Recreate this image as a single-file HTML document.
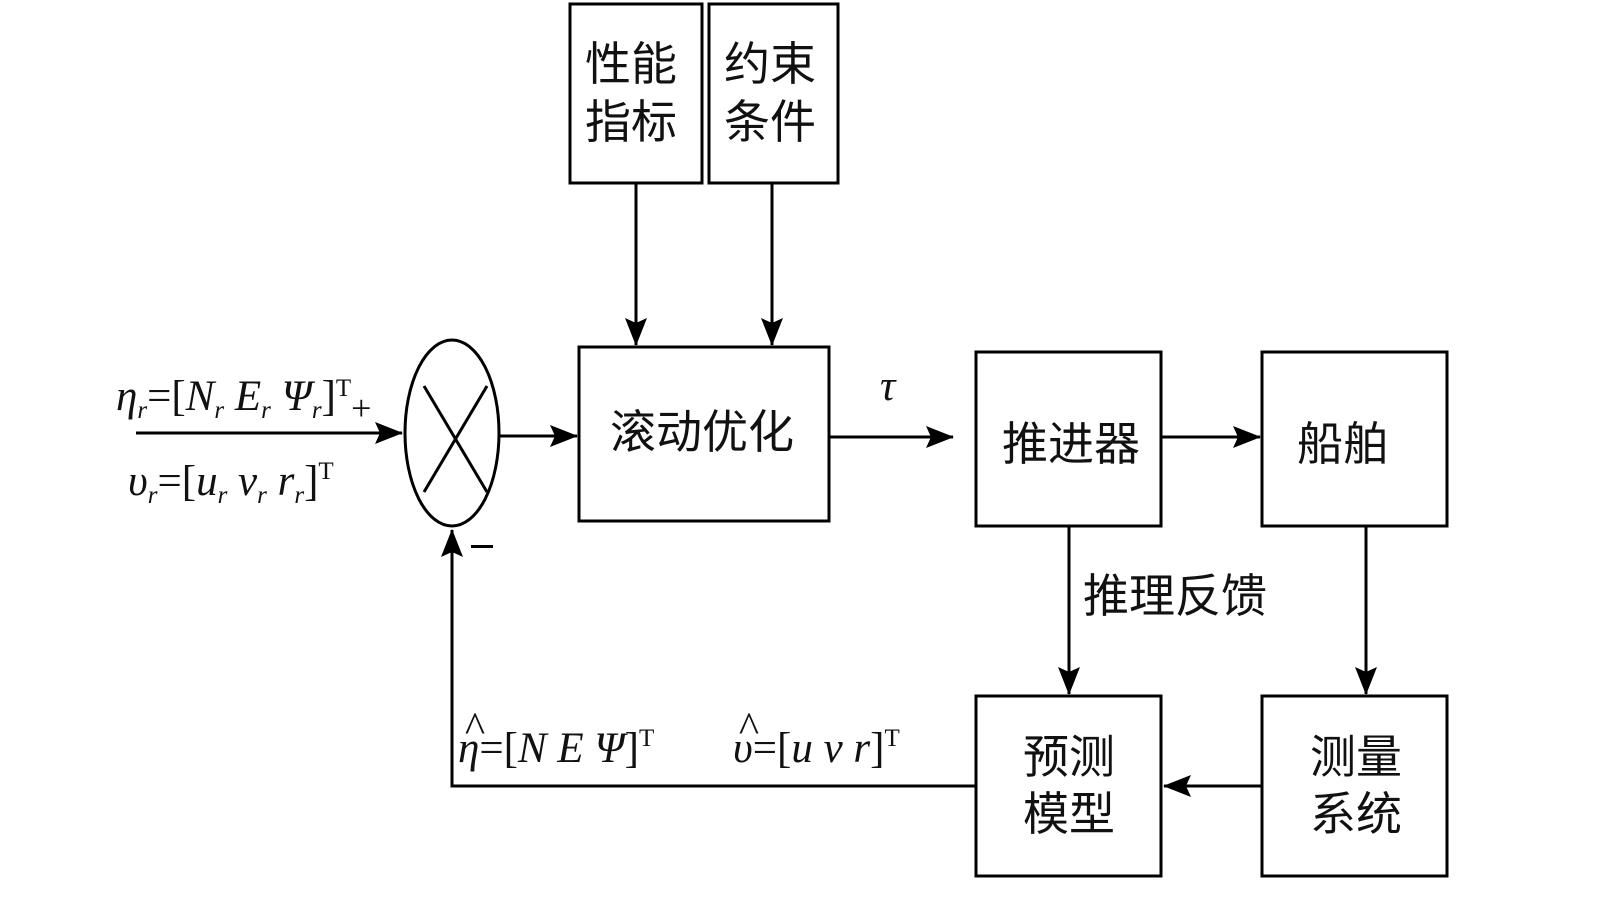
<!DOCTYPE html>
<html><head><meta charset="utf-8"><style>
body{margin:0;background:#fff}
svg{display:block}
.c{font-family:"Liberation Sans","Noto Sans CJK SC",sans-serif;font-size:46px;fill:#111}
.m{font-family:"Liberation Serif",serif;font-size:43px;fill:#111;font-style:italic}
.s{font-size:25px}
.u{font-style:normal;font-size:25px}
</style></head><body>
<svg width="1600" height="899" viewBox="0 0 1600 899" xmlns="http://www.w3.org/2000/svg">
<defs>
<marker id="b" markerWidth="28" markerHeight="22" refX="27" refY="11" orient="auto" markerUnits="userSpaceOnUse"><path d="M0,0 L28,11 L0,22 L5,11 z" fill="#000"/></marker></defs>
<g fill="none" stroke="#000" stroke-width="3">
<rect x="570" y="4" width="132" height="179"/>
<rect x="709" y="4" width="129" height="179"/>
<rect x="579" y="347" width="250" height="174"/>
<rect x="976" y="352" width="185" height="174"/>
<rect x="1262" y="352" width="185" height="174"/>
<rect x="976" y="696" width="185" height="180"/>
<rect x="1262" y="696" width="185" height="180"/>
<ellipse cx="452" cy="433" rx="47" ry="93"/>
<line x1="424" y1="386" x2="487" y2="492"/>
<line x1="487" y1="386" x2="424" y2="492"/>
<line x1="136" y1="433" x2="402" y2="433" marker-end="url(#b)"/>
<line x1="499" y1="436" x2="577" y2="436" marker-end="url(#b)"/>
<line x1="830" y1="437" x2="953" y2="437" marker-end="url(#b)"/>
<line x1="1161" y1="437" x2="1260" y2="437" marker-end="url(#b)"/>
<line x1="636" y1="183" x2="636" y2="345" marker-end="url(#b)"/>
<line x1="772" y1="183" x2="772" y2="345" marker-end="url(#b)"/>
<line x1="1069" y1="526" x2="1069" y2="694" marker-end="url(#b)"/>
<line x1="1366" y1="526" x2="1366" y2="694" marker-end="url(#b)"/>
<line x1="1262" y1="786" x2="1164" y2="786" marker-end="url(#b)"/>
<polyline points="976,786 452,786 452,530" marker-end="url(#b)"/>
</g>
<text class="c" x="585" y="80">性能</text><text class="c" x="585" y="138">指标</text>
<text class="c" x="724" y="80">约束</text><text class="c" x="724" y="138">条件</text>
<text class="c" x="610" y="448">滚动优化</text>
<text class="c" x="1002" y="460">推进器</text>
<text class="c" x="1297" y="460">船舶</text>
<text class="c" x="1083" y="612">推理反馈</text>
<text class="c" x="1023" y="773">预测</text><text class="c" x="1023" y="830">模型</text>
<text class="c" x="1310" y="773">测量</text><text class="c" x="1310" y="830">系统</text>
<text class="m" x="880" y="400">τ</text>
<text class="m" x="116" y="410">η<tspan class="s" dy="8">r</tspan><tspan dy="-8" font-style="normal">=[</tspan>N<tspan class="s" dy="8">r</tspan><tspan dy="-8"> E</tspan><tspan class="s" dy="8">r</tspan><tspan dy="-8"> Ψ</tspan><tspan class="s" dy="8">r</tspan><tspan dy="-8" font-style="normal">]</tspan><tspan class="u" dy="-14">T</tspan><tspan dy="24" font-style="normal" font-size="36">+</tspan></text>
<text class="m" x="128" y="495">υ<tspan class="s" dy="8">r</tspan><tspan dy="-8" font-style="normal">=[</tspan>u<tspan class="s" dy="8">r</tspan><tspan dy="-8"> v</tspan><tspan class="s" dy="8">r</tspan><tspan dy="-8"> r</tspan><tspan class="s" dy="8">r</tspan><tspan dy="-8" font-style="normal">]</tspan><tspan class="u" dy="-16">T</tspan></text>
<rect x="471" y="545" width="22" height="3" fill="#000"/>
<text class="m" x="458" y="762">η<tspan font-style="normal">=[</tspan>N E Ψ<tspan font-style="normal">]</tspan><tspan class="u" dy="-16">T</tspan></text>
<text class="m" x="464" y="742" font-style="normal" font-size="26">^</text>
<text class="m" x="733" y="762">υ<tspan font-style="normal">=[</tspan>u v r<tspan font-style="normal">]</tspan><tspan class="u" dy="-16">T</tspan></text>
<text class="m" x="738" y="742" font-style="normal" font-size="26">^</text>
</svg>
</body></html>
